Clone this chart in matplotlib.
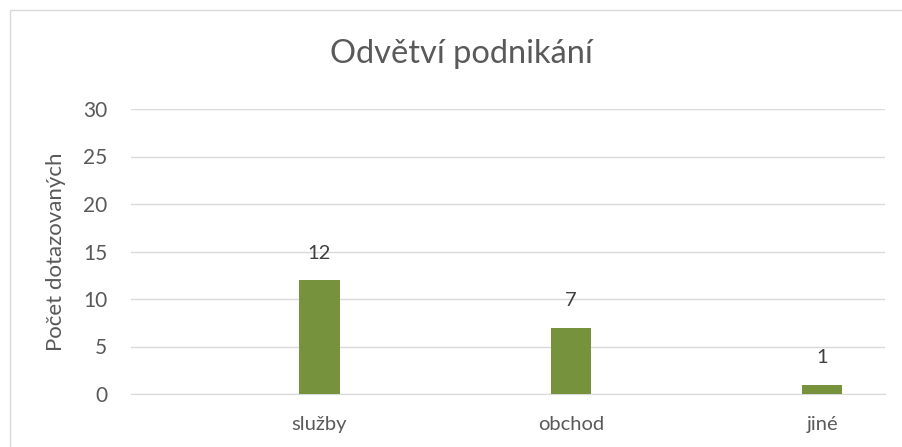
import matplotlib
matplotlib.use("Agg")
import matplotlib.pyplot as plt
from matplotlib.patches import Rectangle

categories = ["služby", "obchod", "jiné"]
values = [12, 7, 1]
yticks = [0, 5, 10, 15, 20, 25, 30]

plt.rcParams['font.family'] = ['Lato', 'DejaVu Sans']
txt = '#595959'

fig = plt.figure(figsize=(9.03, 4.47), dpi=100)
fig.patches.append(Rectangle((10/903, -0.1), 1.2, 1 - 10/447 + 0.1, transform=fig.transFigure,
                             fill=False, edgecolor='#D9D9D9', linewidth=1))
ax = fig.add_axes([131/903, 1 - 394/447, (885-131)/903, (394-109)/447])
x = list(range(len(categories)))
bars = ax.bar(x, values, width=0.16, color='#76923C', zorder=3)
for xi, v in zip(x, values):
    ax.text(xi, v + 1.9, str(v), ha='center', va='bottom', fontsize=14.5, color='#404040')
ax.set_xlim(-0.75, len(categories) - 0.75)
ax.set_ylim(0, 30)
ax.set_yticks(yticks)
ax.set_yticklabels([str(t) for t in yticks], fontsize=15, color=txt)
ax.set_xticks(x)
ax.set_xticklabels(categories, fontsize=14.5, color=txt)
ax.tick_params(length=0, pad=16)
ax.tick_params(axis='y', pad=17)
ax.grid(axis='y', color='#D9D9D9', linewidth=1, zorder=0)
for s in ['top', 'right', 'left']:
    ax.spines[s].set_visible(False)
ax.spines['bottom'].set_color('#D9D9D9')
ax.set_ylabel("Počet dotazovaných", fontsize=16, color=txt, labelpad=12)
fig.text(461/903, 1 - 54/447, "Odvětví podnikání", ha='center', va='center', fontsize=23.5, color=txt)
fig.savefig("out.png", dpi=100)
